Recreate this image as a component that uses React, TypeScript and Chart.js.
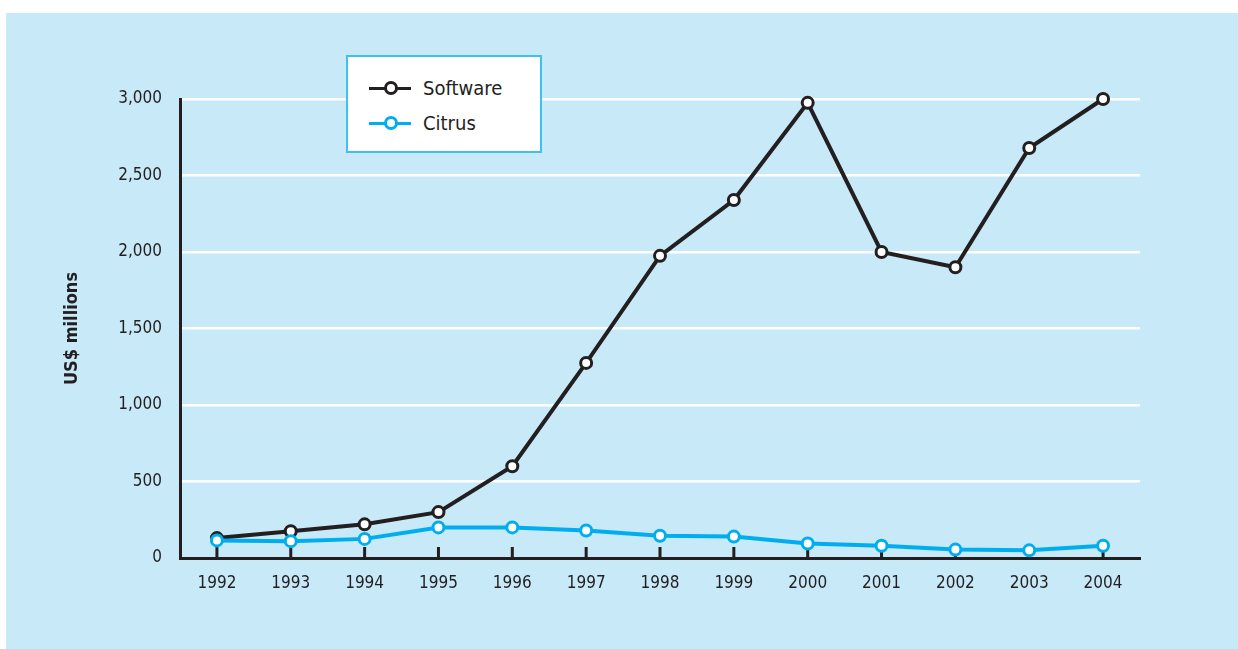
import React, { useEffect, useRef } from "react";
import { Chart, registerables } from "chart.js";

Chart.register(...registerables);

const years = ["1992", "1993", "1994", "1995", "1996", "1997", "1998", "1999", "2000", "2001", "2002", "2003", "2004"];
const softwareValues = [130, 175, 220, 300, 600, 1275, 1975, 2340, 2975, 2000, 1900, 2680, 3000];
const citrusValues = [115, 110, 125, 200, 200, 180, 145, 140, 95, 80, 55, 50, 80];
const yTickValues = [0, 500, 1000, 1500, 2000, 2500, 3000];
const seriesNames = ["Software", "Citrus"];
const seriesColors = ["#231f20", "#00aeef"];
const yAxisTitle = "US$ millions";

const FONT = '"Liberation Sans Narrow", "DejaVu Sans Condensed", "Liberation Sans", sans-serif';
const INK = "#231f20";
const PANEL = "#c7e9f8";

const xTickMarks = {
  id: "xTickMarks",
  beforeDatasetsDraw(chart: any) {
    const { ctx, chartArea, scales } = chart;
    const x = scales.x;
    ctx.save();
    ctx.strokeStyle = INK;
    ctx.lineWidth = 3;
    for (let i = 0; i < years.length; i++) {
      const px = x.getPixelForValue(i);
      ctx.beginPath();
      ctx.moveTo(px, chartArea.bottom - 11);
      ctx.lineTo(px, chartArea.bottom);
      ctx.stroke();
    }
    ctx.restore();
  },
};

function LegendMarker({ color }: { color: string }) {
  return (
    <div style={{ position: "relative", width: 42, height: 14, marginRight: 12 }}>
      <div style={{ position: "absolute", left: 0, top: 5.5, width: 42, height: 3.5, background: color }} />
      <div
        style={{
          position: "absolute",
          left: 14.5,
          top: 0,
          width: 8,
          height: 8,
          borderRadius: "50%",
          background: "#fff",
          border: `3px solid ${color}`,
        }}
      />
    </div>
  );
}

export default function App() {
  const canvasRef = useRef<HTMLCanvasElement | null>(null);

  useEffect(() => {
    if (!canvasRef.current) return;
    const makeDs = (label: string, data: number[], color: string, order: number) => ({
      label,
      data,
      borderColor: color,
      borderWidth: 4,
      pointRadius: 5.5,
      pointBorderWidth: 3,
      pointBackgroundColor: "#fff",
      pointBorderColor: color,
      tension: 0,
      clip: false as any,
      order,
    });
    const chart = new Chart(canvasRef.current, {
      type: "line",
      data: {
        labels: years,
        datasets: [
          makeDs(seriesNames[0], softwareValues, seriesColors[0], 1),
          makeDs(seriesNames[1], citrusValues, seriesColors[1], 0),
        ],
      },
      options: {
        animation: false,
        responsive: false,
        layout: { padding: { left: 0, top: 99, right: 98, bottom: 0 } },
        plugins: { legend: { display: false }, tooltip: { enabled: false } },
        scales: {
          x: {
            type: "category",
            offset: true,
            grid: { display: false, drawTicks: false },
            border: { color: INK, width: 3 },
            ticks: { color: INK, font: { family: FONT, size: 17 }, padding: 15, maxRotation: 0 },
            afterFit: (s: any) => {
              s.height = 91;
            },
          },
          y: {
            min: 0,
            max: 3000,
            afterBuildTicks: (s: any) => {
              s.ticks = yTickValues.map((v) => ({ value: v }));
            },
            grid: {
              color: (c: any) => (c.tick && c.tick.value === 0 ? "rgba(0,0,0,0)" : "#ffffff"),
              lineWidth: 2.5,
              drawTicks: false,
            },
            border: { color: INK, width: 3 },
            ticks: {
              color: INK,
              font: { family: FONT, size: 17 },
              padding: 18,
              callback: (v: any) => Number(v).toLocaleString("en-US"),
            },
            title: {
              display: true,
              text: yAxisTitle,
              color: INK,
              font: { family: FONT, size: 18, weight: "bold" },
              padding: { top: 62, bottom: 0 },
            },
            afterFit: (s: any) => {
              s.width = 180;
            },
          },
        },
      },
      plugins: [xTickMarks],
    });
    return () => chart.destroy();
  }, []);

  return (
    <div style={{ position: "fixed", left: 0, top: 0, width: 1238, height: 649, background: "#fff", overflow: "hidden" }}>
      <div style={{ position: "absolute", left: 6, top: 13, width: 1232, height: 636, background: PANEL }} />
      <canvas ref={canvasRef} width={1238} height={649} style={{ position: "absolute", left: 0, top: 0 }} />
      <div
        style={{
          position: "absolute",
          left: 346,
          top: 55,
          width: 196,
          height: 98,
          boxSizing: "border-box",
          background: "#fff",
          border: "2px solid #3fc1ef",
          fontFamily: FONT,
          fontSize: 20,
          color: INK,
        }}
      >
        {seriesNames.map((name, i) => (
          <div
            key={name}
            style={{
              position: "absolute",
              left: 21,
              top: i === 0 ? 19 : 54,
              height: 24,
              display: "flex",
              alignItems: "center",
            }}
          >
            <LegendMarker color={seriesColors[i]} />
            <span>{name}</span>
          </div>
        ))}
      </div>
    </div>
  );
}
